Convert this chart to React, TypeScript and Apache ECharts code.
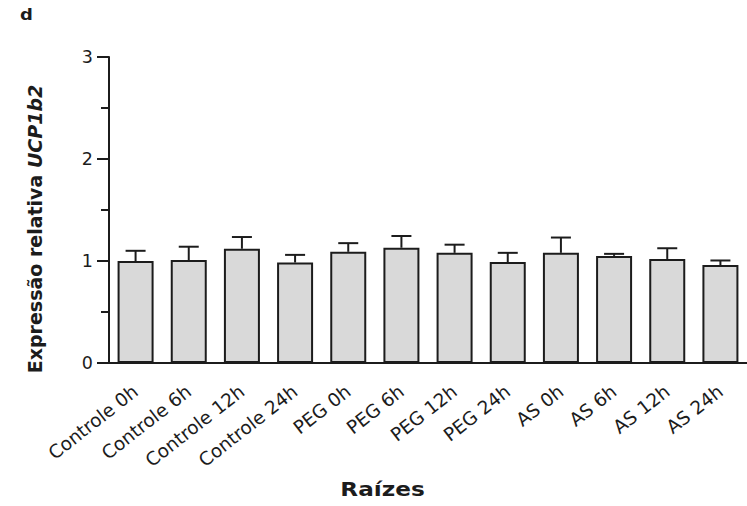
import React, { useEffect, useRef } from "react";
import * as echarts from "echarts";

const categories = [
  "Controle 0h", "Controle 6h", "Controle 12h", "Controle 24h",
  "PEG 0h", "PEG 6h", "PEG 12h", "PEG 24h",
  "AS 0h", "AS 6h", "AS 12h", "AS 24h",
];
const means = [1.0, 1.01, 1.12, 0.985, 1.09, 1.13, 1.08, 0.99, 1.08, 1.05, 1.02, 0.96];
const errorTops = [1.1, 1.14, 1.235, 1.06, 1.175, 1.245, 1.16, 1.08, 1.23, 1.07, 1.125, 1.005];
const yTicks = [0, 1, 2, 3];

const FONT = "'DejaVu Sans', 'Liberation Sans', Arial, sans-serif";
const INK = "#1c1c1c";

export default function App() {
  const ref = useRef<HTMLDivElement>(null);
  useEffect(() => {
    document.body.style.margin = "0";
    const chart = echarts.init(ref.current!, null, { renderer: "svg" });
    chart.setOption({
      animation: false,
      backgroundColor: "#ffffff",
      grid: { left: 109, top: 57, width: 646, height: 306, containLabel: false },
      xAxis: {
        type: "category",
        data: categories,
        boundaryGap: true,
        axisLine: { lineStyle: { color: INK, width: 2 } },
        axisTick: { alignWithLabel: true, length: 8, lineStyle: { color: INK, width: 2 } },
        axisLabel: {
          rotate: 38,
          fontSize: 18.5,
          color: INK,
          fontFamily: FONT,
          margin: 26,
          interval: 0,
        },
      },
      yAxis: {
        type: "value",
        min: yTicks[0],
        max: yTicks[yTicks.length - 1],
        interval: 1,
        splitLine: { show: false },
        axisLine: { show: true, lineStyle: { color: INK, width: 2 } },
        axisTick: { show: true, length: 12, lineStyle: { color: INK, width: 2 } },
        minorTick: { show: true, splitNumber: 2, length: 8, lineStyle: { color: INK, width: 2 } },
        axisLabel: { fontSize: 17.5, color: INK, fontFamily: FONT, margin: 16 },
      },
      series: [
        {
          type: "bar",
          data: means,
          barWidth: 36,
          itemStyle: { color: "#d9d9d9", borderColor: INK, borderWidth: 2 },
          z: 3,
        },
        {
          type: "custom",
          data: means.map((m, i) => [i, m, errorTops[i]]),
          z: 2,
          renderItem: (params: any, api: any) => {
            const i = api.value(0);
            const p0 = api.coord([i, api.value(1)]);
            const p1 = api.coord([i, api.value(2)]);
            const half = 10;
            return {
              type: "group",
              children: [
                { type: "line", shape: { x1: p0[0], y1: p0[1], x2: p1[0], y2: p1[1] }, style: { stroke: INK, lineWidth: 2 } },
                { type: "line", shape: { x1: p1[0] - half, y1: p1[1], x2: p1[0] + half, y2: p1[1] }, style: { stroke: INK, lineWidth: 2 } },
              ],
            };
          },
        },
      ],
      graphic: [
        {
          type: "text",
          x: 20,
          y: 8,
          scaleX: 1.2,
          style: { text: "d", font: `bold 15px ${FONT}`, fill: INK, align: "left", verticalAlign: "top" },
        },
        {
          type: "text",
          x: 35,
          y: 229,
          rotation: Math.PI / 2,
          style: {
            text: "{a|Expressão relativa }{b|UCP1b2}",
            align: "center",
            verticalAlign: "middle",
            rich: {
              a: { font: `bold 19px ${FONT}`, fill: INK },
              b: { font: `italic bold 19px ${FONT}`, fill: INK },
            },
          },
        },
        {
          type: "text",
          x: 382.5,
          y: 489,
          scaleX: 1.22,
          style: { text: "Raízes", font: `bold 19px ${FONT}`, fill: INK, align: "center", verticalAlign: "middle" },
        },
      ],
    });
    return () => chart.dispose();
  }, []);
  return <div ref={ref} style={{ width: 747, height: 506 }} />;
}
